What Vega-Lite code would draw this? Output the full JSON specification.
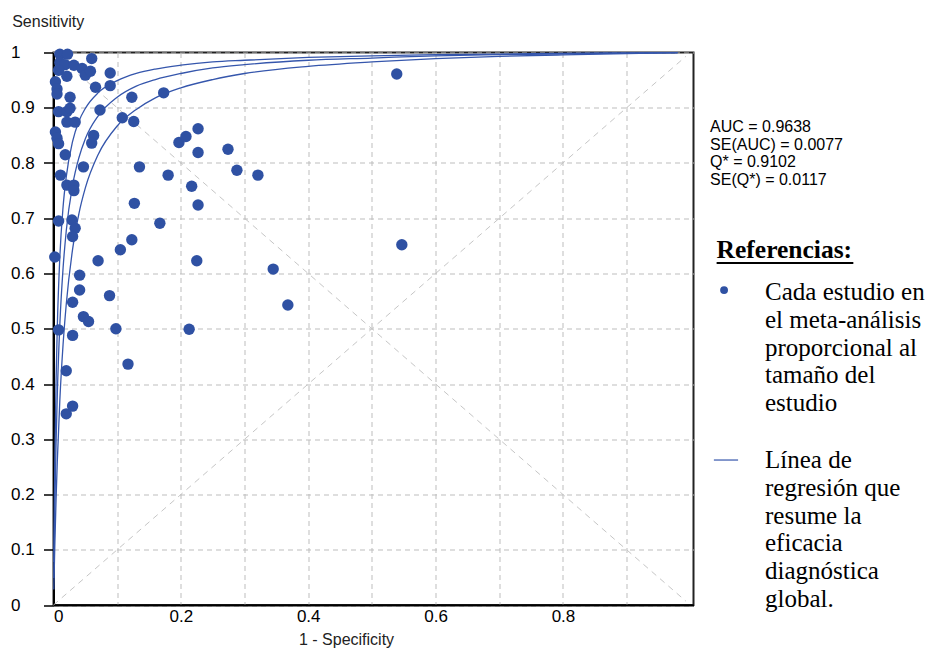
{
  "$schema": "https://vega.github.io/schema/vega-lite/v6.json",
  "width": 640,
  "height": 552.5,
  "autosize": {"type": "none"},
  "padding": {"left": 53.5, "top": 52.5, "right": 233.5, "bottom": 45},
  "background": "#ffffff",
  "config": {
    "view": {"stroke": "#222222", "strokeWidth": 2},
    "axis": {"labelFont": "Liberation Sans", "titleFont": "Liberation Sans", "labelColor": "#000000", "titleColor": "#222222", "titleFontWeight": "normal"}
  },
  "data": {"values": [{}]},
  "datasets": {
    "studies": [
      {"fpr": 0.010, "sens": 0.997}, {"fpr": 0.022, "sens": 0.997}, {"fpr": 0.060, "sens": 0.989},
      {"fpr": 0.010, "sens": 0.982}, {"fpr": 0.018, "sens": 0.978}, {"fpr": 0.032, "sens": 0.977},
      {"fpr": 0.045, "sens": 0.971}, {"fpr": 0.050, "sens": 0.959}, {"fpr": 0.058, "sens": 0.966},
      {"fpr": 0.008, "sens": 0.968}, {"fpr": 0.021, "sens": 0.957}, {"fpr": 0.089, "sens": 0.963},
      {"fpr": 0.003, "sens": 0.947}, {"fpr": 0.0055, "sens": 0.934}, {"fpr": 0.0055, "sens": 0.925},
      {"fpr": 0.066, "sens": 0.937}, {"fpr": 0.089, "sens": 0.940}, {"fpr": 0.026, "sens": 0.919},
      {"fpr": 0.123, "sens": 0.919}, {"fpr": 0.173, "sens": 0.927}, {"fpr": 0.073, "sens": 0.896},
      {"fpr": 0.008, "sens": 0.893}, {"fpr": 0.021, "sens": 0.893}, {"fpr": 0.026, "sens": 0.899},
      {"fpr": 0.108, "sens": 0.882}, {"fpr": 0.126, "sens": 0.875}, {"fpr": 0.021, "sens": 0.874},
      {"fpr": 0.034, "sens": 0.874}, {"fpr": 0.003, "sens": 0.856}, {"fpr": 0.0055, "sens": 0.845},
      {"fpr": 0.008, "sens": 0.835}, {"fpr": 0.063, "sens": 0.850}, {"fpr": 0.060, "sens": 0.836},
      {"fpr": 0.0185, "sens": 0.815}, {"fpr": 0.047, "sens": 0.793}, {"fpr": 0.135, "sens": 0.793},
      {"fpr": 0.011, "sens": 0.778}, {"fpr": 0.021, "sens": 0.760}, {"fpr": 0.032, "sens": 0.760},
      {"fpr": 0.032, "sens": 0.750}, {"fpr": 0.008, "sens": 0.695}, {"fpr": 0.029, "sens": 0.697},
      {"fpr": 0.034, "sens": 0.682}, {"fpr": 0.030, "sens": 0.667}, {"fpr": 0.002, "sens": 0.630},
      {"fpr": 0.041, "sens": 0.597}, {"fpr": 0.041, "sens": 0.570}, {"fpr": 0.030, "sens": 0.548},
      {"fpr": 0.047, "sens": 0.522}, {"fpr": 0.055, "sens": 0.513}, {"fpr": 0.008, "sens": 0.498},
      {"fpr": 0.030, "sens": 0.488}, {"fpr": 0.020, "sens": 0.424}, {"fpr": 0.030, "sens": 0.360},
      {"fpr": 0.020, "sens": 0.346}, {"fpr": 0.098, "sens": 0.500}, {"fpr": 0.117, "sens": 0.436},
      {"fpr": 0.088, "sens": 0.560}, {"fpr": 0.070, "sens": 0.623}, {"fpr": 0.105, "sens": 0.643},
      {"fpr": 0.123, "sens": 0.661}, {"fpr": 0.127, "sens": 0.727}, {"fpr": 0.167, "sens": 0.691},
      {"fpr": 0.180, "sens": 0.778}, {"fpr": 0.197, "sens": 0.837}, {"fpr": 0.208, "sens": 0.848},
      {"fpr": 0.227, "sens": 0.862}, {"fpr": 0.227, "sens": 0.819}, {"fpr": 0.217, "sens": 0.758},
      {"fpr": 0.227, "sens": 0.724}, {"fpr": 0.225, "sens": 0.623}, {"fpr": 0.213, "sens": 0.499},
      {"fpr": 0.274, "sens": 0.825}, {"fpr": 0.288, "sens": 0.787}, {"fpr": 0.321, "sens": 0.778},
      {"fpr": 0.345, "sens": 0.608}, {"fpr": 0.368, "sens": 0.543}, {"fpr": 0.539, "sens": 0.961},
      {"fpr": 0.547, "sens": 0.652}
    ],
    "sroc": [
      {"curve": "upper", "fpr": 0.0005, "sens": 0.078}, {"curve": "upper", "fpr": 0.001, "sens": 0.145},
      {"curve": "upper", "fpr": 0.002, "sens": 0.253}, {"curve": "upper", "fpr": 0.004, "sens": 0.404},
      {"curve": "upper", "fpr": 0.006, "sens": 0.505}, {"curve": "upper", "fpr": 0.01, "sens": 0.631},
      {"curve": "upper", "fpr": 0.015, "sens": 0.720}, {"curve": "upper", "fpr": 0.02, "sens": 0.775},
      {"curve": "upper", "fpr": 0.03, "sens": 0.839}, {"curve": "upper", "fpr": 0.04, "sens": 0.876},
      {"curve": "upper", "fpr": 0.05, "sens": 0.899}, {"curve": "upper", "fpr": 0.07, "sens": 0.927},
      {"curve": "upper", "fpr": 0.1, "sens": 0.949}, {"curve": "upper", "fpr": 0.13, "sens": 0.962},
      {"curve": "upper", "fpr": 0.16, "sens": 0.970}, {"curve": "upper", "fpr": 0.2, "sens": 0.977},
      {"curve": "upper", "fpr": 0.25, "sens": 0.983}, {"curve": "upper", "fpr": 0.3, "sens": 0.986},
      {"curve": "upper", "fpr": 0.4, "sens": 0.991}, {"curve": "upper", "fpr": 0.5, "sens": 0.994},
      {"curve": "upper", "fpr": 0.6, "sens": 0.996}, {"curve": "upper", "fpr": 0.7, "sens": 0.997},
      {"curve": "upper", "fpr": 0.8, "sens": 0.9985}, {"curve": "upper", "fpr": 0.9, "sens": 0.9993},
      {"curve": "upper", "fpr": 0.98, "sens": 0.9999},
      {"curve": "summary", "fpr": 0.0005, "sens": 0.049}, {"curve": "summary", "fpr": 0.001, "sens": 0.093},
      {"curve": "summary", "fpr": 0.002, "sens": 0.170}, {"curve": "summary", "fpr": 0.004, "sens": 0.292},
      {"curve": "summary", "fpr": 0.006, "sens": 0.382}, {"curve": "summary", "fpr": 0.01, "sens": 0.509},
      {"curve": "summary", "fpr": 0.015, "sens": 0.609}, {"curve": "summary", "fpr": 0.02, "sens": 0.677},
      {"curve": "summary", "fpr": 0.03, "sens": 0.760}, {"curve": "summary", "fpr": 0.04, "sens": 0.810},
      {"curve": "summary", "fpr": 0.05, "sens": 0.844}, {"curve": "summary", "fpr": 0.07, "sens": 0.885},
      {"curve": "summary", "fpr": 0.1, "sens": 0.919}, {"curve": "summary", "fpr": 0.13, "sens": 0.939},
      {"curve": "summary", "fpr": 0.16, "sens": 0.951}, {"curve": "summary", "fpr": 0.2, "sens": 0.962},
      {"curve": "summary", "fpr": 0.25, "sens": 0.972}, {"curve": "summary", "fpr": 0.3, "sens": 0.978},
      {"curve": "summary", "fpr": 0.4, "sens": 0.986}, {"curve": "summary", "fpr": 0.5, "sens": 0.990},
      {"curve": "summary", "fpr": 0.6, "sens": 0.994}, {"curve": "summary", "fpr": 0.7, "sens": 0.996},
      {"curve": "summary", "fpr": 0.8, "sens": 0.9976}, {"curve": "summary", "fpr": 0.9, "sens": 0.9989},
      {"curve": "summary", "fpr": 0.98, "sens": 0.9998},
      {"curve": "lower", "fpr": 0.0005, "sens": 0.028}, {"curve": "lower", "fpr": 0.001, "sens": 0.055},
      {"curve": "lower", "fpr": 0.002, "sens": 0.105}, {"curve": "lower", "fpr": 0.004, "sens": 0.190},
      {"curve": "lower", "fpr": 0.006, "sens": 0.261}, {"curve": "lower", "fpr": 0.01, "sens": 0.372},
      {"curve": "lower", "fpr": 0.015, "sens": 0.471}, {"curve": "lower", "fpr": 0.02, "sens": 0.544},
      {"curve": "lower", "fpr": 0.03, "sens": 0.644}, {"curve": "lower", "fpr": 0.04, "sens": 0.709},
      {"curve": "lower", "fpr": 0.05, "sens": 0.755}, {"curve": "lower", "fpr": 0.07, "sens": 0.815},
      {"curve": "lower", "fpr": 0.1, "sens": 0.867}, {"curve": "lower", "fpr": 0.13, "sens": 0.897},
      {"curve": "lower", "fpr": 0.16, "sens": 0.918}, {"curve": "lower", "fpr": 0.2, "sens": 0.936},
      {"curve": "lower", "fpr": 0.25, "sens": 0.951}, {"curve": "lower", "fpr": 0.3, "sens": 0.962},
      {"curve": "lower", "fpr": 0.4, "sens": 0.975}, {"curve": "lower", "fpr": 0.5, "sens": 0.983},
      {"curve": "lower", "fpr": 0.6, "sens": 0.989}, {"curve": "lower", "fpr": 0.7, "sens": 0.993},
      {"curve": "lower", "fpr": 0.8, "sens": 0.9957}, {"curve": "lower", "fpr": 0.9, "sens": 0.9981},
      {"curve": "lower", "fpr": 0.98, "sens": 0.9997}
    ]
  },
  "layer": [
    {
      "data": {"name": "studies"},
      "mark": {"type": "point", "filled": true, "opacity": 0},
      "encoding": {
        "x": {
          "field": "fpr", "type": "quantitative",
          "scale": {"domain": [0, 1.005], "nice": false, "zero": false},
          "axis": {
            "title": "1 - Specificity",
            "values": [0, 0.1, 0.2, 0.3, 0.4, 0.5, 0.6, 0.7, 0.8, 0.9],
            "format": ".1~f",
            "labelExpr": "indexof([0, 0.2, 0.4, 0.6, 0.8], datum.value) >= 0 ? datum.label : ''",
            "labelFontSize": 17, "labelFlush": true, "labelPadding": 3,
            "ticks": false,
            "domainColor": "#000000", "domainWidth": 2,
            "grid": true, "gridColor": "#bdbdbd", "gridDash": [5, 4], "gridWidth": 1,
            "titleFontSize": 16, "titleX": 292.5, "titleY": 39, "titleAlign": "center", "titleBaseline": "alphabetic"
          }
        },
        "y": {
          "field": "sens", "type": "quantitative",
          "scale": {"domain": [0, 1], "nice": false, "zero": false},
          "axis": {
            "title": "Sensitivity",
            "values": [0, 0.1, 0.2, 0.3, 0.4, 0.5, 0.6, 0.7, 0.8, 0.9, 1],
            "format": ".1~f",
            "labelFontSize": 17, "labelAlign": "left", "labelBaseline": "middle", "labelPadding": 33,
            "tickSize": 10, "tickColor": "#000000", "tickWidth": 1.5,
            "domainColor": "#000000", "domainWidth": 2,
            "grid": true, "gridColor": "#bdbdbd", "gridDash": [5, 4], "gridWidth": 1,
            "titleFontSize": 16, "titleAngle": 0, "titleX": -41.8, "titleY": -26, "titleAlign": "left", "titleBaseline": "alphabetic"
          }
        }
      }
    },
    {
      "mark": {"type": "rule", "color": "#c6c6c6", "strokeDash": [6, 5], "strokeWidth": 1},
      "encoding": {
        "x": {"datum": 0, "type": "quantitative"},
        "y": {"datum": 0, "type": "quantitative"},
        "x2": {"datum": 0.993},
        "y2": {"datum": 0.993}
      }
    },
    {
      "mark": {"type": "rule", "color": "#c6c6c6", "strokeDash": [6, 5], "strokeWidth": 1},
      "encoding": {
        "x": {"datum": 0, "type": "quantitative"},
        "y": {"datum": 1, "type": "quantitative"},
        "x2": {"datum": 0.993},
        "y2": {"datum": 0.007}
      }
    },
    {
      "data": {"name": "sroc"},
      "mark": {"type": "line", "color": "#3556ac", "strokeWidth": 1.3, "interpolate": "monotone"},
      "encoding": {
        "x": {"field": "fpr", "type": "quantitative"},
        "y": {"field": "sens", "type": "quantitative"},
        "detail": {"field": "curve"},
        "order": {"field": "fpr"}
      }
    },
    {
      "data": {"name": "studies"},
      "mark": {"type": "circle", "color": "#2f51a3", "opacity": 1, "size": 130},
      "encoding": {
        "x": {"field": "fpr", "type": "quantitative"},
        "y": {"field": "sens", "type": "quantitative"}
      }
    },
    {
      "mark": {"type": "text", "align": "left", "baseline": "alphabetic", "font": "Liberation Sans", "fontSize": 16, "lineHeight": 17.7, "color": "#000000"},
      "encoding": {
        "x": {"datum": 1.031, "type": "quantitative"},
        "y": {"datum": 0.856, "type": "quantitative"},
        "text": {"value": ["AUC = 0.9638", "SE(AUC) = 0.0077", "Q* = 0.9102", "SE(Q*) = 0.0117"]}
      }
    },
    {
      "mark": {"type": "text", "align": "left", "baseline": "alphabetic", "font": "Liberation Serif", "fontSize": 25.5, "fontWeight": "bold", "color": "#000000"},
      "encoding": {
        "x": {"datum": 1.0413, "type": "quantitative"},
        "y": {"datum": 0.628, "type": "quantitative"},
        "text": {"value": "Referencias:"}
      }
    },
    {
      "mark": {"type": "rule", "color": "#000000", "strokeWidth": 1.8},
      "encoding": {
        "x": {"datum": 1.0413, "type": "quantitative"},
        "x2": {"datum": 1.256},
        "y": {"datum": 0.619, "type": "quantitative"}
      }
    },
    {
      "mark": {"type": "circle", "color": "#2f51a3", "opacity": 1, "size": 62},
      "encoding": {
        "x": {"datum": 1.053, "type": "quantitative"},
        "y": {"datum": 0.570, "type": "quantitative"}
      }
    },
    {
      "mark": {"type": "text", "align": "left", "baseline": "alphabetic", "font": "Liberation Serif", "fontSize": 25, "lineHeight": 27.8, "color": "#000000"},
      "encoding": {
        "x": {"datum": 1.1173, "type": "quantitative"},
        "y": {"datum": 0.552, "type": "quantitative"},
        "text": {"value": ["Cada estudio en", "el meta-análisis", "proporcional al", "tamaño del", "estudio"]}
      }
    },
    {
      "mark": {"type": "rule", "color": "#3556ac", "strokeWidth": 1.2},
      "encoding": {
        "x": {"datum": 1.037, "type": "quantitative"},
        "x2": {"datum": 1.075},
        "y": {"datum": 0.2624, "type": "quantitative"}
      }
    },
    {
      "mark": {"type": "text", "align": "left", "baseline": "alphabetic", "font": "Liberation Serif", "fontSize": 25, "lineHeight": 27.8, "color": "#000000"},
      "encoding": {
        "x": {"datum": 1.1173, "type": "quantitative"},
        "y": {"datum": 0.248, "type": "quantitative"},
        "text": {"value": ["Línea de", "regresión que", "resume la", "eficacia", "diagnóstica", "global."]}
      }
    }
  ]
}
